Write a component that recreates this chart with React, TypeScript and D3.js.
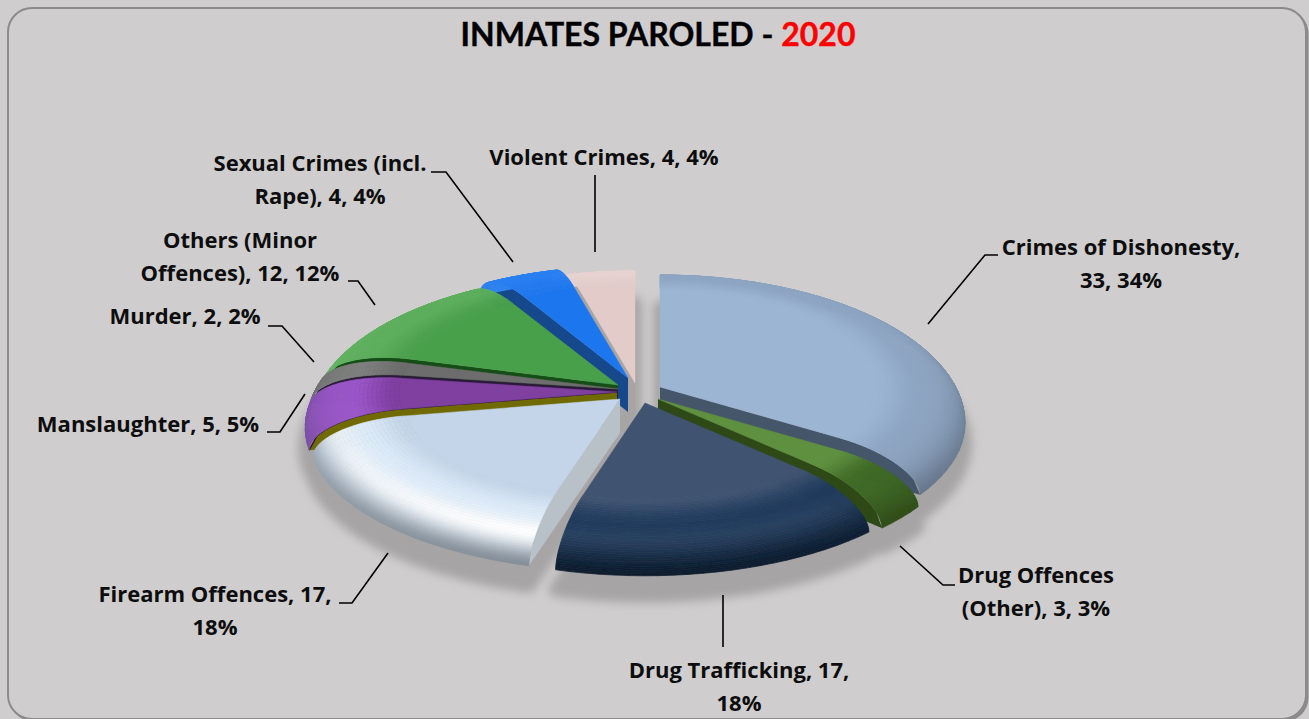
import { useEffect, useRef } from 'react';
import * as d3 from 'd3';

// Chart data
const categories = ['Crimes of Dishonesty', 'Drug Offences (Other)', 'Drug Trafficking', 'Firearm Offences', 'Manslaughter', 'Murder', 'Others (Minor Offences)', 'Sexual Crimes (incl. Rape)', 'Violent Crimes'];
const counts = [33, 3, 17, 17, 5, 2, 12, 4, 4];
const titleText = 'INMATES PAROLED - ';
const titleYear = '2020';
const labelLines = [
  ['Crimes of Dishonesty,', '33, 34%'],
  ['Drug Offences', '(Other), 3, 3%'],
  ['Drug Trafficking, 17,', '18%'],
  ['Firearm Offences, 17,', '18%'],
  ['Manslaughter, 5, 5%'],
  ['Murder, 2, 2%'],
  ['Others (Minor', 'Offences), 12, 12%'],
  ['Sexual Crimes (incl.', 'Rape), 4, 4%'],
  ['Violent Crimes, 4, 4%'],
];

// Layout of the labels and their leader lines
const labelPos = [[1121, 255], [1036, 583], [739, 678], [215, 602], [148, 432], [185, 324], [240, 248], [320, 171], [604, 165]];
const leaders = [
  [[928, 324], [985, 255], [998, 255]],
  [[900, 546], [943, 585], [955, 585]],
  [[723, 595], [723, 647]],
  [[388, 553], [352, 603], [339, 603]],
  [[305, 394], [280, 432], [267, 432]],
  [[314, 362], [282, 326], [268, 326]],
  [[375, 305], [358, 281], [348, 281]],
  [[513, 262], [446, 172], [431, 172]],
  [[595, 252], [595, 175]],
];

// Where each exploded slice has its tip, its size, and how it is painted
const tips = [[660, 387], [658, 399], [645, 403], [620, 399], [617, 392], [618, 389], [618, 385], [628, 378], [635, 383]];
const sliceScale = [1, 1, 1, 1.02, 1.022, 1.022, 1.01, 1, 1];
const sliceStyles = [
  { top: '#9cb5d3', rim: '#8ea6c3', dark: '#5d6c7f', wall: '#44546a', spec: 0 },
  { top: '#5f903f', rim: '#3f6a26', dark: '#2c4815', wall: '#2e4a15', spec: 0 },
  { top: '#3f5371', rim: '#1f3a5c', dark: '#0a1a2c', wall: '#1e3a5f', spec: 0.05 },
  { top: '#c5d5e9', rim: '#dcebf9', dark: '#76818c', wall: '#b8c0c8', spec: 1 },
  { top: '#7f3fa0', rim: '#9b57c9', dark: '#6a4a90', wall: '#6f6a00', spec: 0, line: '#2a1a30' },
  { top: '#6d6d6d', rim: '#7f7f7f', dark: '#5c5c5c', wall: '#2a1a38', spec: 0 },
  { top: '#4aa04c', rim: '#5cae5c', dark: '#7fc07f', wall: '#124d12', spec: 0 },
  { top: '#1f77ee', rim: '#2a80f0', dark: '#4a90f0', wall: '#17498c', spec: 0 },
  { top: '#e2cbc9', rim: '#e6d2d0', dark: '#e6d6d4', wall: '#a8a4a4', spec: 0 },
];
const paintOrder = [8, 0, 7, 6, 5, 4, 1, 3, 2];

const RX = 305; // horizontal radius
const RY = 136; // depth radius after tilt
const PERSP = 0.02;
const H = 34; // slice thickness
const BEVEL = 0.7; // radius where the rounded rim begins

const heightAt = (r: number) => {
  if (r <= BEVEL) return H;
  const t = Math.min(1, (r - BEVEL) / (1 - BEVEL));
  return H * Math.sqrt(1 - t * t);
};

const project = (i: number, r: number, a: number, z: number): [number, number] => {
  const x = r * sliceScale[i] * Math.sin(a);
  const y = r * Math.cos(a);
  const w = 1 + PERSP * y;
  return [tips[i][0] + (RX * x) / w, tips[i][1] + H - (RY * y) / w - z];
};

const smooth = (a: number, b: number, v: number) => {
  const t = Math.max(0, Math.min(1, (v - a) / (b - a)));
  return t * t * (3 - 2 * t);
};

const rimColor = (i: number, t: number, a: number) => {
  const s = sliceStyles[i];
  const front = (1 - Math.cos(a)) / 2;
  let c = d3.interpolateRgb(s.top, s.rim)(smooth(0, 0.5, t));
  c = d3.interpolateRgb(c, s.dark)(Math.pow(t, 6) * (0.2 + 0.8 * front));
  const glow = s.spec * Math.exp(-Math.pow((t - 0.74) / 0.17, 2)) * Math.pow(front, 1.5);
  return d3.interpolateRgb(c, '#ffffff')(glow);
};

const App = () => {
  const svgRef = useRef(null);

  useEffect(() => {
    const width = 1309;
    const height = 719;
    const svg = d3.select(svgRef.current).attr('width', width).attr('height', height);
    svg.selectAll('*').remove();

    const defs = svg.append('defs');
    defs.append('filter').attr('id', 'soft').append('feGaussianBlur').attr('stdDeviation', 0.7);
    defs.append('filter').attr('id', 'shade')
      .attr('x', '-20%').attr('y', '-20%').attr('width', '140%').attr('height', '140%')
      .append('feGaussianBlur').attr('stdDeviation', 5);

    // Panel
    svg.append('rect').attr('width', width).attr('height', height).attr('fill', '#cfcdcd');
    svg.append('rect')
      .attr('x', 9.5).attr('y', 9.5)
      .attr('width', 1299).attr('height', 712)
      .attr('rx', 24)
      .attr('fill', '#8b8b8b');
    svg.append('rect')
      .attr('x', 8).attr('y', 8)
      .attr('width', 1298).attr('height', 711)
      .attr('rx', 24)
      .attr('fill', '#cfcdcd')
      .attr('stroke', '#8b8b8b')
      .attr('stroke-width', 2);

    const pie = d3.pie<number>().sort(null).startAngle(0).endAngle(2 * Math.PI);
    const arcs = pie(counts);
    const line = d3.line();
    const angleRange = (a0: number, a1: number) => {
      const n = Math.max(2, Math.ceil((a1 - a0) / 0.05));
      return d3.range(n + 1).map(k => a0 + ((a1 - a0) * k) / n);
    };

    // Soft ground shadow
    const shadow = svg.append('g').attr('filter', 'url(#shade)').attr('transform', 'translate(0, 20)');
    arcs.forEach((d, i) => {
      const pts = angleRange(d.startAngle, d.endAngle).map(a => project(i, 1, a, 0));
      const tip = project(i, 0, 0, 0);
      shadow.append('path')
        .attr('d', line([tip, ...pts]) + 'Z')
        .attr('fill', '#a6a4a4')
        .attr('stroke', '#a6a4a4')
        .attr('stroke-width', 14)
        .attr('stroke-linejoin', 'round');
    });

    // Slices, back to front
    const pieG = svg.append('g').attr('filter', 'url(#soft)');
    const radii = d3.range(0, 33).map(k => BEVEL + (1 - BEVEL) * Math.sin((k / 32) * (Math.PI / 2)));
    paintOrder.forEach(i => {
      const d = arcs[i];
      const s = sliceStyles[i];
      const g = pieG.append('g').attr('class', 'slice').attr('data-name', categories[i]);

      // Cut faces that look towards the viewer
      [d.startAngle, d.endAngle].forEach((a, side) => {
        const visible = side === 0 ? Math.sin(a) < -1e-6 : Math.sin(a) > 1e-6;
        if (!visible) return;
        const rs = d3.range(0, 41).map(k => k / 40);
        const topEdge = rs.map(r => project(i, r, a, heightAt(r)));
        const bottom = rs.slice().reverse().map(r => project(i, r, a, 0));
        g.append('path').attr('d', line([...topEdge, ...bottom]) + 'Z').attr('fill', s.wall);
        if (s.line) {
          g.append('path').attr('d', line(topEdge)).attr('fill', 'none').attr('stroke', s.line).attr('stroke-width', 1.4);
        }
      });

      // Rounded rim, outer rings first so the inner ones hide them at the back
      const angles = angleRange(d.startAngle, d.endAngle);
      for (let k = radii.length - 2; k >= 0; k--) {
        const r0 = radii[k];
        const r1 = radii[k + 1];
        const t = ((r0 + r1) / 2 - BEVEL) / (1 - BEVEL);
        for (let j = 0; j < angles.length - 1; j++) {
          const a0 = angles[j];
          const a1 = angles[j + 1];
          const col = rimColor(i, t, (a0 + a1) / 2);
          g.append('path')
            .attr('d', line([
              project(i, r0, a0, heightAt(r0)),
              project(i, r0, a1, heightAt(r0)),
              project(i, r1, a1, heightAt(r1)),
              project(i, r1, a0, heightAt(r1)),
            ]) + 'Z')
            .attr('fill', col)
            .attr('stroke', col)
            .attr('stroke-width', 0.7);
        }
      }

      // Flat top
      g.append('path')
        .attr('d', line([project(i, 0, 0, H), ...angles.map(a => project(i, BEVEL, a, H))]) + 'Z')
        .attr('fill', s.top)
        .attr('stroke', s.top)
        .attr('stroke-width', 0.5);
    });

    // Leader lines
    leaders.forEach(pts => {
      svg.append('path')
        .attr('d', line(pts as [number, number][]))
        .attr('fill', 'none')
        .attr('stroke', '#000')
        .attr('stroke-width', 1.6);
    });

    // Labels
    labelLines.forEach((lines, i) => {
      lines.forEach((txt, k) => {
        svg.append('text')
          .attr('x', labelPos[i][0])
          .attr('y', labelPos[i][1] + k * 33)
          .attr('text-anchor', 'middle')
          .attr('font-family', '"Open Sans", sans-serif')
          .attr('font-weight', 700)
          .attr('font-size', 22)
          .attr('fill', '#0d0d0d')
          .text(txt);
      });
    });

    // Title
    const title = svg.append('text')
      .attr('x', 658).attr('y', 46)
      .attr('text-anchor', 'middle')
      .attr('font-family', 'Lato, sans-serif')
      .attr('font-weight', 700)
      .attr('font-size', 32)
      .attr('stroke', '#000')
      .attr('stroke-width', 0.4)
      .attr('fill', '#000');
    title.append('tspan').text(titleText);
    title.append('tspan').attr('fill', '#ff0000').attr('stroke', '#ff0000').text(titleYear);
  }, []);

  return <svg ref={svgRef} style={{ position: 'absolute', left: 0, top: 0, display: 'block' }}></svg>;
};

export default App;
